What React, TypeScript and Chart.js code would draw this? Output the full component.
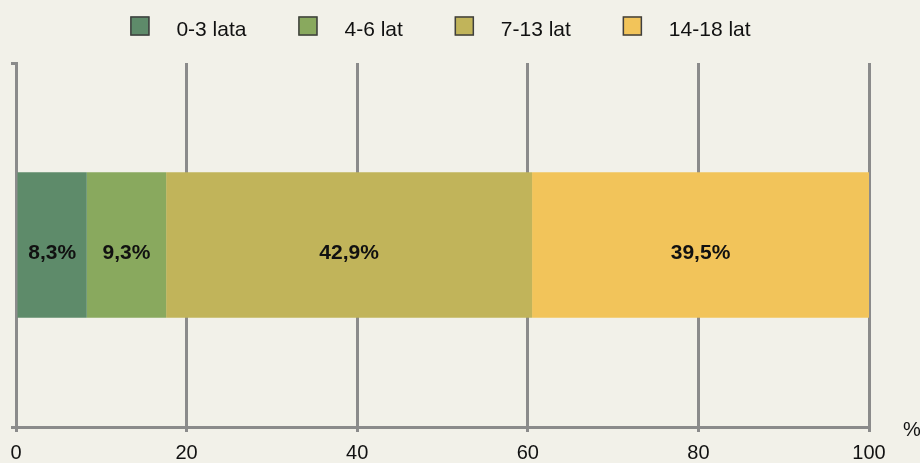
import React, { useEffect, useRef } from "react";
import { Chart, registerables } from "chart.js";

Chart.register(...registerables);

const categories = [""];
const ageGroups = ["0-3 lata", "4-6 lat", "7-13 lat", "14-18 lat"];
const shares = [8.3, 9.3, 42.9, 39.5];
const groupColors = ["#5E8B6A", "#89A95E", "#C1B45A", "#F2C45A"];
const xTicks = [0, 20, 40, 60, 80, 100];
const unitLabel = "%";

const FONT = "'Liberation Sans', Arial, sans-serif";
const GRID = "#8b8b8b";

const fmt = (v: number) => v.toFixed(1).replace(".", ",") + "%";

const overlayPlugin = {
  id: "overlay",
  afterDatasetsDraw(chart: any) {
    const ctx = chart.ctx;
    ctx.save();
    ctx.font = `bold 21px ${FONT}`;
    ctx.fillStyle = "#111";
    ctx.textAlign = "center";
    ctx.textBaseline = "alphabetic";
    chart.data.datasets.forEach((ds: any, i: number) => {
      const meta = chart.getDatasetMeta(i);
      meta.data.forEach((el: any, j: number) => {
        const p = el.getProps(["x", "y", "base"], true);
        ctx.fillText(fmt(ds.data[j]), (p.x + p.base) / 2, p.y + 14);
      });
    });
    ctx.restore();
  },
  afterDraw(chart: any) {
    const ctx = chart.ctx;
    const area = chart.chartArea;
    ctx.save();
    ctx.font = `21px ${FONT}`;
    const box = 19;
    const gapText = 27;
    const gapItem = 52;
    const widths = ageGroups.map((l) => ctx.measureText(l).width);
    const total =
      widths.reduce((a, b) => a + b, 0) + ageGroups.length * (box + gapText) + (ageGroups.length - 1) * gapItem;
    let x = (area.left + area.right) / 2 - 2 - total / 2;
    const top = 16.5;
    ageGroups.forEach((l, i) => {
      ctx.fillStyle = groupColors[i];
      ctx.fillRect(x, top, box, box);
      ctx.strokeStyle = "#3f3f3f";
      ctx.lineWidth = 1.5;
      ctx.strokeRect(x + 0.5, top + 0.5, box - 1, box - 1);
      ctx.fillStyle = "#111";
      ctx.textAlign = "left";
      ctx.textBaseline = "alphabetic";
      ctx.fillText(l, x + box + gapText, 35.5);
      x += box + gapText + widths[i] + gapItem;
    });
    ctx.font = `20px ${FONT}`;
    ctx.fillText(unitLabel, area.right + 34, area.bottom + 9);
    ctx.restore();
  },
};

export default function App() {
  const ref = useRef<HTMLCanvasElement | null>(null);
  useEffect(() => {
    document.body.style.margin = "0";
    const canvas = ref.current!;
    const chart = new Chart(canvas, {
      type: "bar",
      data: {
        labels: categories,
        datasets: ageGroups.map((g, i) => ({
          label: g,
          data: [shares[i]],
          backgroundColor: groupColors[i],
          borderWidth: 0,
          barPercentage: 0.4,
          categoryPercentage: 1,
        })),
      },
      options: {
        indexAxis: "y",
        animation: false,
        responsive: false,
        devicePixelRatio: 1,
        layout: { padding: { top: 63, right: 51, left: 0, bottom: 0 } },
        plugins: {
          legend: { display: false },
          tooltip: { enabled: false },
          title: { display: false },
        },
        scales: {
          x: {
            type: "linear",
            stacked: true,
            min: xTicks[0],
            max: xTicks[xTicks.length - 1],
            afterBuildTicks: (scale: any) => {
              scale.ticks = xTicks.map((v) => ({ value: v }));
            },
            afterFit: (scale: any) => {
              scale.height = 36;
            },
            ticks: {
              color: "#111",
              font: { family: FONT, size: 20 },
              padding: 9,
              maxRotation: 0,
              callback: (v: any) => String(v),
            },
            grid: {
              color: GRID,
              lineWidth: 3,
              drawTicks: true,
              tickLength: 5,
            },
            border: { display: true, color: GRID, width: 3 },
          },
          y: {
            type: "category",
            stacked: true,
            offset: true,
            afterFit: (scale: any) => {
              scale.width = 16;
            },
            ticks: { display: false },
            grid: {
              offset: true,
              drawOnChartArea: false,
              drawTicks: true,
              tickLength: 5,
              color: GRID,
              lineWidth: 3,
            },
            border: { display: true, color: GRID, width: 3 },
          },
        },
      },
      plugins: [overlayPlugin],
    } as any);
    return () => chart.destroy();
  }, []);

  return (
    <div
      style={{
        position: "fixed",
        left: 0,
        top: 0,
        width: 920,
        height: 463,
        background: "#F2F1E9",
      }}
    >
      <canvas ref={ref} width={920} height={463} style={{ display: "block" }} />
    </div>
  );
}
